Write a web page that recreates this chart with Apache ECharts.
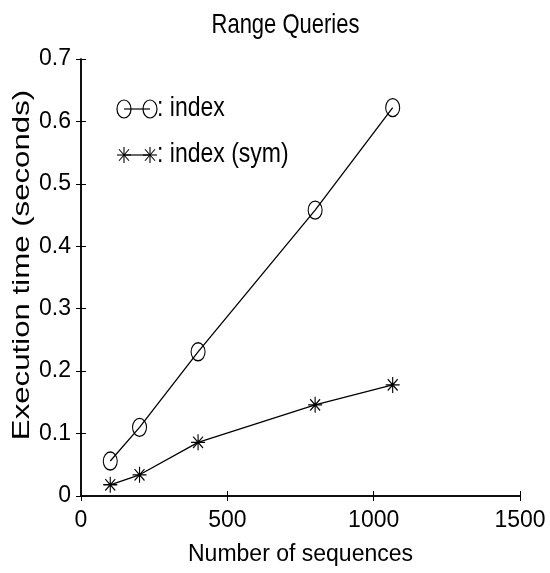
<!DOCTYPE html>
<html>
<head>
<meta charset="utf-8">
<script src="https://cdn.jsdelivr.net/npm/echarts@6/dist/echarts.min.js"></script>
<style>
html,body{margin:0;padding:0;background:#fff;}
#chart{width:550px;height:573px;}
</style>
</head>
<body>
<div id="chart"></div>
<script>
// Data
const sequenceCounts = [100, 200, 400, 800, 1065];
const indexTimes = [0.056, 0.110, 0.231, 0.458, 0.622];
const indexSymTimes = [0.018, 0.034, 0.086, 0.146, 0.178];
const seriesNames = ['index', 'index (sym)'];
const titleText = 'Range Queries';
const xAxisTitle = 'Number of sequences';
const yAxisTitle = 'Execution time (seconds)';

const SANS = "'Liberation Sans', Arial, Helvetica, sans-serif";
const ASTERISK = 'path://M0,-8L0,8M-8,0L8,0M-5.66,-5.66L5.66,5.66M-5.66,5.66L5.66,-5.66';

function pairs(xs, ys) { return xs.map((x, i) => [x, ys[i]]); }

// legend asterisk made of four strokes
function asteriskGraphic(cx, cy, hw, hh) {
  const s = {stroke: '#000', lineWidth: 1.1};
  const dx = hw * 0.72, dy = hh * 0.72;
  return [
    {type: 'line', shape: {x1: cx, y1: cy - hh, x2: cx, y2: cy + hh}, style: s},
    {type: 'line', shape: {x1: cx - hw, y1: cy, x2: cx + hw, y2: cy}, style: s},
    {type: 'line', shape: {x1: cx - dx, y1: cy - dy, x2: cx + dx, y2: cy + dy}, style: s},
    {type: 'line', shape: {x1: cx - dx, y1: cy + dy, x2: cx + dx, y2: cy - dy}, style: s}
  ];
}

const chart = echarts.init(document.getElementById('chart'), null, {renderer: 'canvas'});

const axisLine = {show: true, lineStyle: {color: '#000', width: 1.5}};
const tick = {show: true, inside: true, length: 5, lineStyle: {color: '#000', width: 1}};
const labelStyle = {color: '#000', fontFamily: SANS, fontSize: 23};

chart.setOption({
  animation: false,
  backgroundColor: '#fff',
  grid: {left: 81, right: 30, top: 59, bottom: 77, containLabel: false, outerBoundsMode: 'none'},
  xAxis: [
    {type: 'value', position: 'bottom', min: 0, max: 1500, interval: 500,
     axisLine: axisLine, axisTick: tick, splitLine: {show: false},
     axisLabel: Object.assign({margin: 13, showMaxLabel: true, showMinLabel: true,
       formatter: v => String(v)}, labelStyle),
     name: xAxisTitle, nameLocation: 'middle', nameGap: 47,
     nameTextStyle: {color: '#000', fontFamily: SANS, fontSize: 23}},
    {type: 'value', position: 'top', min: 0, max: 1500, interval: 500,
     axisLine: axisLine, axisTick: tick, splitLine: {show: false}, axisLabel: {show: false}}
  ],
  yAxis: [
    {type: 'value', position: 'left', min: 0, max: 0.7, interval: 0.1,
     axisLine: axisLine, axisTick: tick, splitLine: {show: false},
     axisLabel: Object.assign({margin: 10, formatter: v => String(+v.toFixed(1))}, labelStyle)},
    {type: 'value', position: 'right', min: 0, max: 0.7, interval: 0.1,
     axisLine: axisLine, axisTick: tick, splitLine: {show: false}, axisLabel: {show: false}}
  ],
  series: [
    {name: seriesNames[0], type: 'line', xAxisIndex: 0, yAxisIndex: 0,
     data: pairs(sequenceCounts, indexTimes),
     symbol: 'circle', symbolSize: [14, 18], showAllSymbol: true,
     lineStyle: {color: '#000', width: 1.3},
     itemStyle: {color: 'none', borderColor: '#000', borderWidth: 1.2}},
    {name: seriesNames[1], type: 'line', xAxisIndex: 0, yAxisIndex: 0,
     data: pairs(sequenceCounts, indexSymTimes),
     symbol: ASTERISK, symbolSize: [14, 16], showAllSymbol: true,
     lineStyle: {color: '#000', width: 1.3},
     itemStyle: {color: '#000', borderColor: '#000', borderWidth: 1.2}}
  ],
  graphic: [
    // chart title (slightly tall glyphs like the reference)
    {type: 'text', x: 285.5, y: 25, scaleY: 1.25,
     style: {text: titleText, fill: '#000', font: '22px ' + SANS, align: 'center', verticalAlign: 'middle'}},
    // y axis title (stretched along its length like the reference)
    {type: 'text', x: 22, y: 265, rotation: Math.PI / 2, scaleX: 1.3,
     style: {text: yAxisTitle, fill: '#000', font: '24px ' + SANS, align: 'center', verticalAlign: 'middle'}},
    // legend row 1
    {type: 'line', shape: {x1: 124, y1: 109, x2: 150, y2: 109}, style: {stroke: '#000', lineWidth: 1.2}},
    {type: 'ellipse', shape: {cx: 124, cy: 109, rx: 7, ry: 9}, style: {fill: 'none', stroke: '#000', lineWidth: 1.2}},
    {type: 'ellipse', shape: {cx: 150, cy: 109, rx: 7, ry: 9}, style: {fill: 'none', stroke: '#000', lineWidth: 1.2}},
    {type: 'text', x: 157, y: 108, scaleY: 1.2, style: {text: ': ' + seriesNames[0], fill: '#000', font: '23px ' + SANS, align: 'left', verticalAlign: 'middle'}},
    // legend row 2
    {type: 'line', shape: {x1: 124, y1: 155, x2: 150, y2: 155}, style: {stroke: '#000', lineWidth: 1.2}}
  ].concat(asteriskGraphic(124, 155, 7, 8), asteriskGraphic(150, 155, 7, 8), [
    {type: 'text', x: 157, y: 154, scaleY: 1.2, style: {text: ': ' + seriesNames[1], fill: '#000', font: '23px ' + SANS, align: 'left', verticalAlign: 'middle'}}
  ])
});
</script>
</body>
</html>
